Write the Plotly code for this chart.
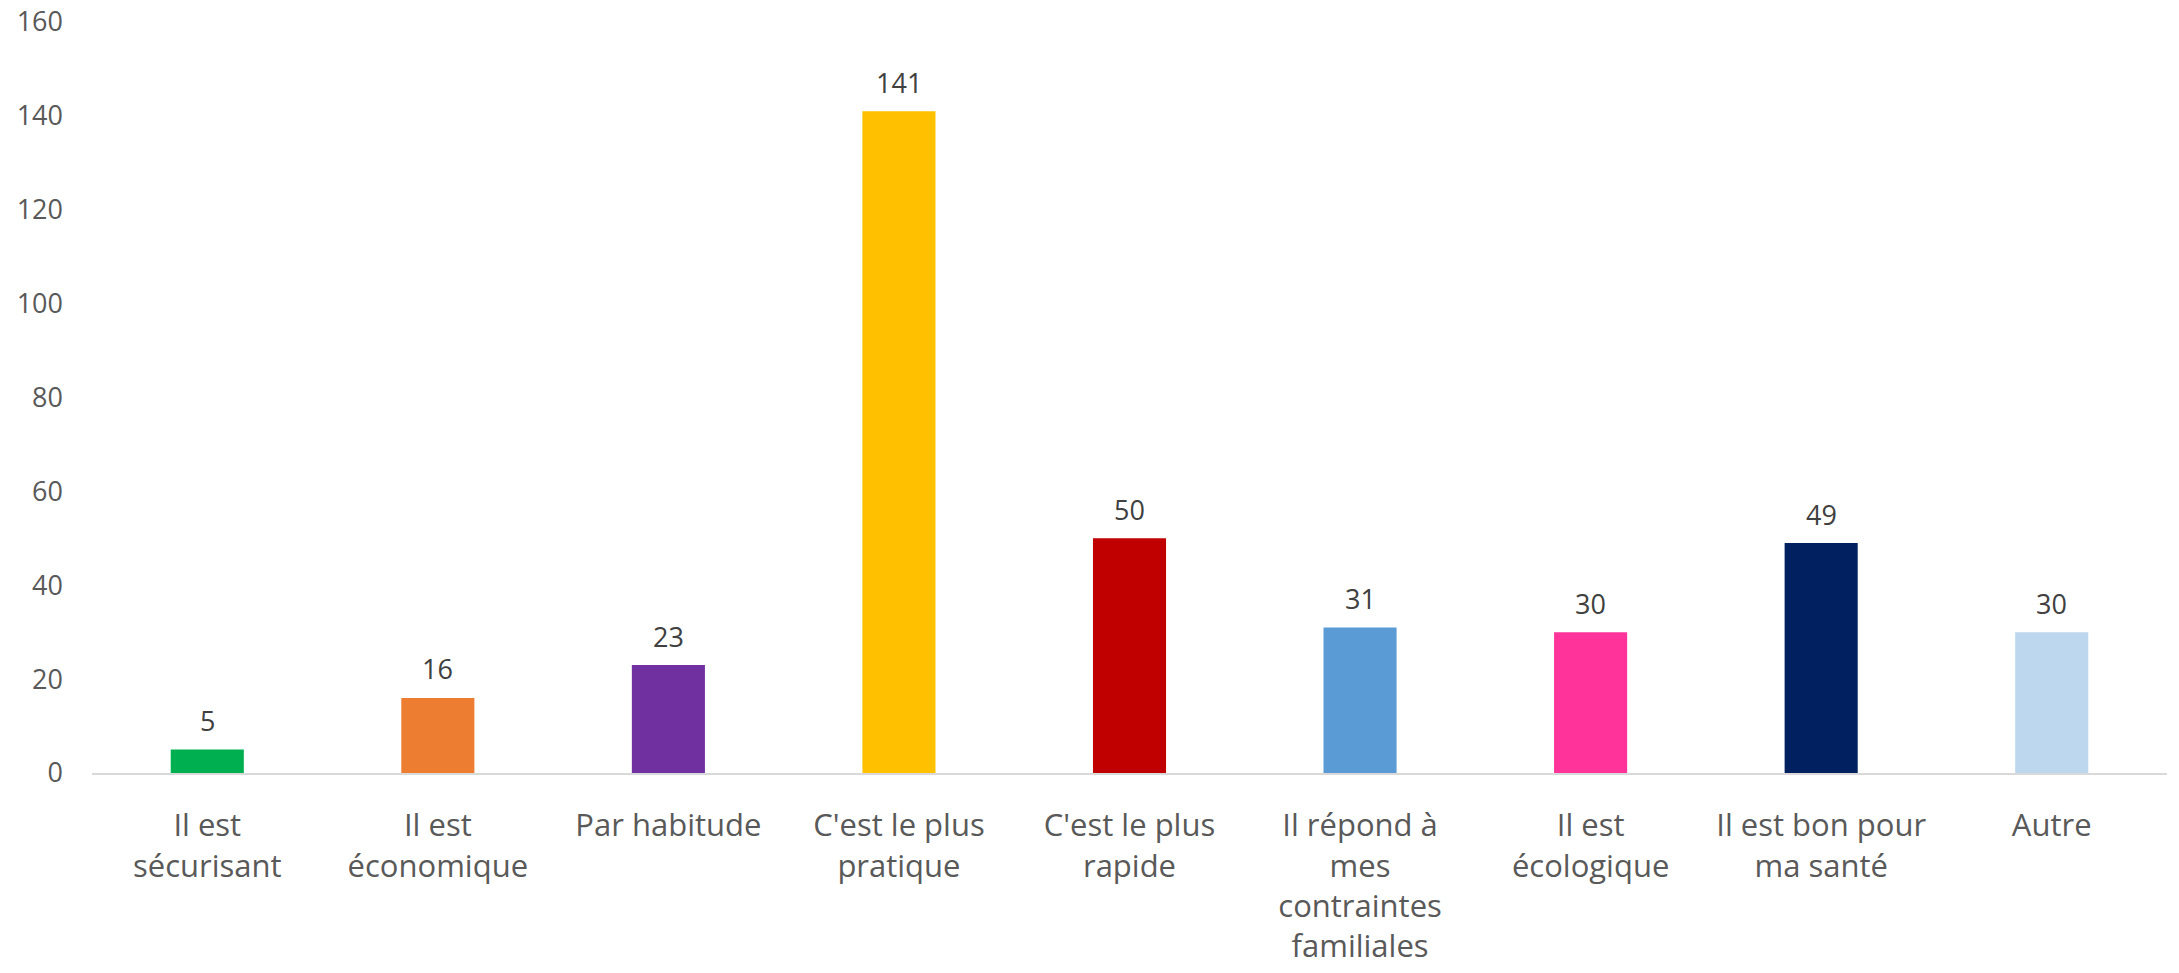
import plotly.graph_objects as go

# survey answers, one bar per reason
categories = [
    "Il est<br>sécurisant",
    "Il est<br>économique",
    "Par habitude",
    "C'est le plus<br>pratique",
    "C'est le plus<br>rapide",
    "Il répond à<br>mes<br>contraintes<br>familiales",
    "Il est<br>écologique",
    "Il est bon pour<br>ma santé",
    "Autre",
]
counts = [5, 16, 23, 141, 50, 31, 30, 49, 30]
bar_colors = [
    "#00B050", "#ED7D31", "#7030A0", "#FFC000", "#C00000",
    "#5B9BD5", "#FF3399", "#002060", "#BDD7EE",
]
y_ticks = [0, 20, 40, 60, 80, 100, 120, 140, 160]

FONT = "'Open Sans', 'Noto Sans', sans-serif"

fig = go.Figure(
    go.Bar(
        x=categories,
        y=counts,
        marker=dict(color=bar_colors, line=dict(width=0)),
        hoverinfo="x+y",
    )
)

# value labels sit a little above each bar
for cat, val in zip(categories, counts):
    fig.add_annotation(
        x=cat, y=val, text=str(val), showarrow=False,
        yanchor="middle", yshift=29,
        font=dict(family=FONT, size=27, color="#404040"),
    )

fig.update_layout(
    width=2179,
    height=973,
    margin=dict(l=92, r=12, t=22, b=200),
    paper_bgcolor="white",
    plot_bgcolor="white",
    bargap=0.683,
    showlegend=False,
    font=dict(family=FONT, size=27, color="#595959"),
    xaxis=dict(
        showline=True, linecolor="#D9D9D9", linewidth=2,
        ticks="", showgrid=False, ticklabelstandoff=24, automargin=False,
        tickfont=dict(family=FONT, size=31, color="#595959"),
    ),
    yaxis=dict(
        range=[0, 160], tickvals=y_ticks, showgrid=False, zeroline=False,
        showline=False, ticks="", ticklabelstandoff=28, automargin=False,
        tickfont=dict(family=FONT, size=27, color="#595959"),
    ),
)

# drop the browser's default body margin so the figure sits at (0, 0)
fig.write_html(
    "out.html",
    config={"displayModeBar": False},
    post_script="document.body.style.margin = '0';",
)
